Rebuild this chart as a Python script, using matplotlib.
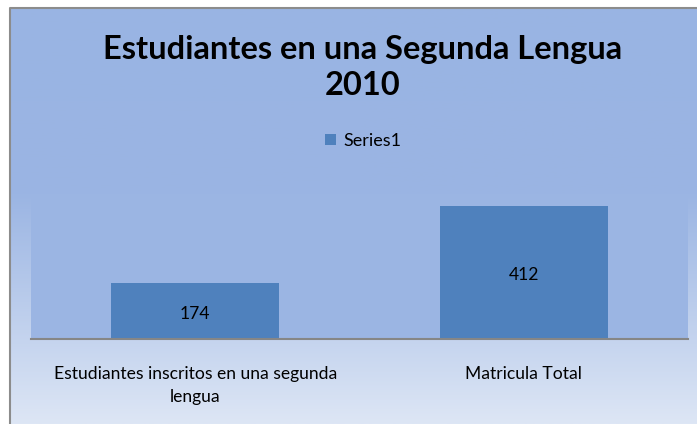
import numpy as np
import matplotlib
matplotlib.use("Agg")
import matplotlib.pyplot as plt
from matplotlib.colors import LinearSegmentedColormap

# data
categorias = ["Estudiantes inscritos en una segunda\nlengua", "Matricula Total"]
valores = [174, 412]
serie = "Series1"
titulo = "Estudiantes en una Segunda Lengua\n2010"

plt.rcParams['font.family'] = ['Lato', 'DejaVu Sans']

W, H = 697, 424
fig = plt.figure(figsize=(W / 100, H / 100), dpi=100)
fig.patch.set_facecolor('white')

# fondo del area del grafico (degradado)
bg = fig.add_axes([0, 0, 1, 1])
bg.set_xlim(0, W)
bg.set_ylim(H, 0)
bg.axis('off')
grad_cmap = LinearSegmentedColormap.from_list(
    "fondo", [(0.0, '#99b4e3'), (0.45, '#9bb5e3'), (1.0, '#dde6f5')])
grad = np.linspace(0, 1, 256).reshape(-1, 1)
bg.imshow(grad, cmap=grad_cmap, aspect='auto', extent=(10, W, H, 7), zorder=0)
bg.plot([10, 10, W], [H, 7.5, 7.5], color='#8c8c8c', lw=1.5, zorder=1)

# area de trazado
x0, x1 = 31, 688
y_base, y_top = 338.5, 194
ax = fig.add_axes([x0 / W, 1 - y_base / H, (x1 - x0) / W, (y_base - y_top) / H])
ax.set_facecolor('#9bb5e3')
x = np.arange(len(valores))
bars = ax.bar(x, valores, width=0.51, color='#4f81bd', label=serie, zorder=2)
ax.set_xlim(-0.5, 1.5)
ax.set_ylim(0, 450)

for b, v in zip(bars, valores):
    ax.annotate(str(v), (b.get_x() + b.get_width() / 2, v / 2), xytext=(0, -2.2),
                textcoords='offset points', ha='center', va='center',
                fontsize=12.6, color='black')

for s in ['top', 'left', 'right']:
    ax.spines[s].set_visible(False)
ax.spines['bottom'].set_color('#868686')
ax.spines['bottom'].set_linewidth(1.5)
ax.set_yticks([])
ax.set_xticks(x)
ax.set_xticklabels(categorias, fontsize=12.6, linespacing=1.55)
ax.tick_params(axis='x', length=0, pad=19.5)

fig.text(363 / W, 1 - 67.5 / H, titulo, ha='center', va='center', fontsize=23.5,
         fontweight='bold', linespacing=1.3)

fig.legend(handles=[bars], labels=[serie], loc='center', bbox_to_anchor=(363 / W, 1 - 141 / H),
           frameon=False, fontsize=13, handlelength=0.6, handleheight=0.6, handletextpad=0.4)

fig.savefig("out.png", dpi=100)
